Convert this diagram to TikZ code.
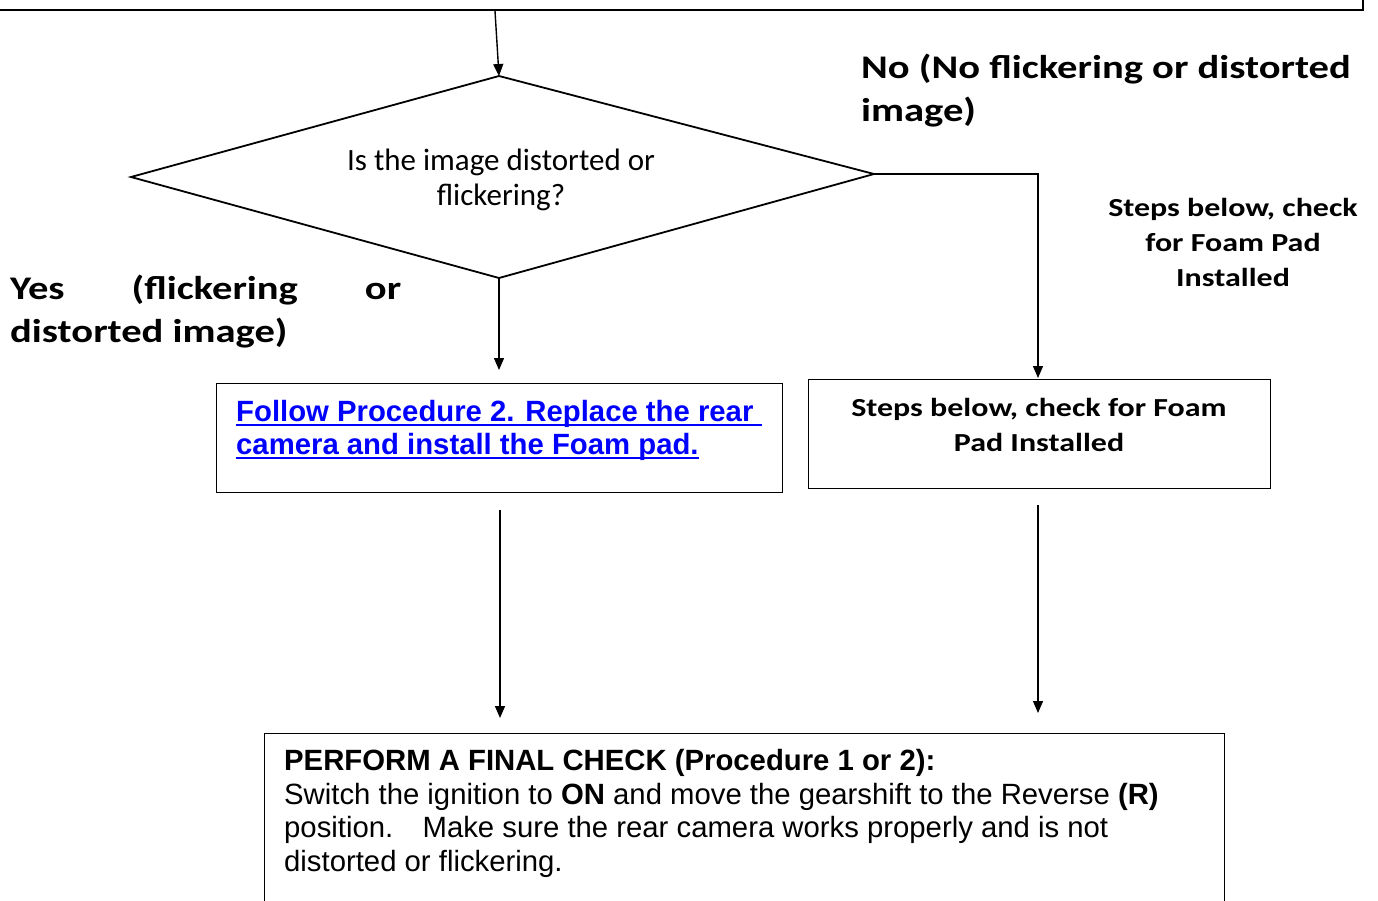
\documentclass[tikz,border=0pt]{standalone}
\usepackage{fontspec}
\newfontfamily\calfont{Carlito}
\newfontfamily\lblfont[FakeStretch=1.23]{Carlito}
\newfontfamily\arialfont{Liberation Sans}
\usetikzlibrary{arrows.meta}
\newcommand\myul[1]{\setbox0\hbox{#1}\rlap{\rule[-5pt]{\wd0}{2.4pt}}\box0}
\tikzset{
  conn/.style={line width=1.4pt,-{Triangle[length=12pt,width=10pt]}},
  boxed/.style={draw,line width=1.2pt,anchor=north west,inner sep=0pt},
  lbl/.style={font=\lblfont\bfseries\fontsize{33}{43}\selectfont,inner sep=0pt},
  small/.style={font=\lblfont\bfseries\fontsize{26}{35}\selectfont,inner sep=0pt,align=center},
}
\begin{document}
\begin{tikzpicture}[x=1pt,y=-1pt]
\useasboundingbox (0,0) rectangle (1378,900);
% top box (cut off)
\draw[line width=2pt] (-10,-60) rectangle (1363,10);
\coordinate (topsrc) at (495,11);
% diamond
\coordinate (dT) at (499,76);
\coordinate (dL) at (131,177);
\coordinate (dR) at (874,174);
\coordinate (dB) at (499,278);
\draw[line width=1.8pt] (dT) -- (dR) -- (dB) -- (dL) -- cycle;
\node[inner sep=0pt,align=center,font=\calfont\fontsize{31}{35}\selectfont] (dq) at (501,180) {Is the image distorted or\\flickering?};
% labels
\node[lbl,anchor=north west,align=left] (yes) at (10,275) {\makebox[391pt][l]{Yes\hfill(flickering\hfill or}\\\makebox[391pt][l]{distorted image)}};
\node[lbl,anchor=north west,align=left] (no) at (861,54) {No (No flickering or distorted\\image)};
\node[small] (stepsR) at (1233,242) {Steps below, check\\for Foam Pad\\Installed};
% boxes
\node[boxed,minimum width=566pt,minimum height=109pt] (proc) at (216,383) {};
\node[anchor=north west,inner sep=0pt,align=left,text=blue,font=\arialfont\bfseries\fontsize{29.3}{33}\selectfont] (proctxt) at (236,400) {\myul{Follow Procedure 2. Replace the rear\ }\\\myul{camera and install the Foam pad.}};
\node[boxed,minimum width=462pt,minimum height=109pt] (steps) at (808,379) {};
\node[small] (stepstxt) at (1039,425) {Steps below, check for Foam\\Pad Installed};
\node[boxed,minimum width=960pt,minimum height=200pt] (final) at (264,733) {};
\node[anchor=north west,inner sep=0pt,align=left,font=\arialfont\fontsize{29.3}{33.7}\selectfont] (finaltxt) at (284,749) {\textbf{PERFORM A FINAL CHECK (Procedure 1 or 2):}\\Switch the ignition to \textbf{ON} and move the gearshift to the Reverse \textbf{(R)}\\position.\quad Make sure the rear camera works properly and is not\\distorted or flickering.};
% connectors
\coordinate (lA) at (499,370);
\coordinate (rA) at (1038,378);
\coordinate (lS) at (500,510);
\coordinate (lE) at (500,718);
\coordinate (rS) at (1038,505);
\coordinate (rE) at (1038,713);
\draw[conn] (topsrc) -- (dT);
\draw[conn] (dB) -- (lA);
\draw[conn] (dR) -| (rA);
\draw[conn] (lS) -- (lE);
\draw[conn] (rS) -- (rE);
\end{tikzpicture}
\end{document}
